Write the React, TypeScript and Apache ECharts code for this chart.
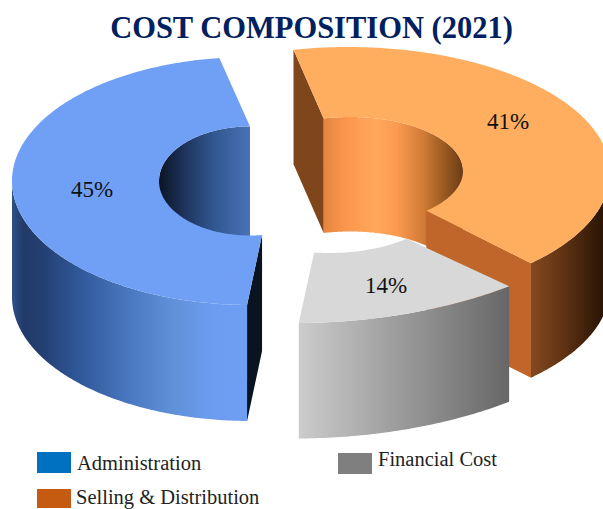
import React, { useEffect, useRef } from "react";
import * as echarts from "echarts";

const categories = ["Administration", "Selling & Distribution", "Financial Cost"];
const shares = [45, 41, 14];
const titleText = "COST COMPOSITION (2021)";

const FONT = '"Liberation Serif", serif';
const START_ANGLE = 185.3;

type Ell = { cx: number; cy: number; rx: number; ry: number };
type Look = {
  outer: Ell; inner: Ell;
  outerAdj: [number, number]; innerAdj: [number, number];
  depth: number; top: string;
  outerStops: [number, string][]; outerRange: [number, number];
  innerStops: [number, string][] | null; innerRange: [number, number];
  startCap: string | null; endCap: string | null;
  label: [number, number];
};

const looks: Look[] = [
  {
    outer: { cx: 250, cy: 181, rx: 238, ry: 124 },
    inner: { cx: 250, cy: 181, rx: 91, ry: 54.5 },
    outerAdj: [-4.6, 5.3], innerAdj: [-12.9, 12.7], depth: 116, top: "#6fa0f6",
    outerStops: [[0, "#2f5087"], [0.05, "#213a68"], [0.12, "#233e70"], [0.3, "#315a9c"], [0.5, "#4a78c0"], [0.68, "#6090d8"], [0.85, "#6c9cee"], [1, "#6f9ff4"]],
    outerRange: [12, 247],
    innerStops: [[0, "#0b1424"], [0.3, "#1f3660"], [0.6, "#31578f"], [1, "#4a72b8"]],
    innerRange: [159, 250],
    startCap: "#0a1320", endCap: null, label: [92, 189],
  },
  {
    outer: { cx: 348, cy: 173, rx: 262, ry: 126 },
    inner: { cx: 350, cy: 171, rx: 113, ry: 54 },
    outerAdj: [0.7, 0.8], innerAdj: [-0.8, 2.6], depth: 114.5, top: "#ffad5f",
    outerStops: [[0, "#85491f"], [0.4, "#643514"], [1, "#2a1405"]],
    outerRange: [531, 603],
    innerStops: [[0, "#e2853f"], [0.16, "#fb964c"], [0.38, "#ffa85c"], [0.53, "#fb9a50"], [0.72, "#cf7a36"], [0.88, "#94561f"], [1, "#6b3c17"]],
    innerRange: [323, 463],
    startCap: "#7f461c", endCap: "#c0662a", label: [508, 121],
  },
  {
    outer: { cx: 295, cy: 136, rx: 360, ry: 187 },
    inner: { cx: 330, cy: 191, rx: 120, ry: 62 },
    outerAdj: [8.6, -5.9], innerAdj: [5.4, 2.3], depth: 115.5, top: "#d8d8d8",
    outerStops: [[0, "#cccccc"], [0.5, "#999999"], [1, "#676767"]],
    outerRange: [299, 509],
    innerStops: null, innerRange: [0, 0],
    startCap: null, endCap: null, label: [386, 285],
  },
];

const legendSpots = [
  { left: 37, top: 452, h: 21, swatch: "#0070c0", raise: 0, indent: 1 },
  { left: 37, top: 486, h: 19, swatch: "#c55a11", raise: 4, indent: 0 },
  { left: 338, top: 448, h: 21, swatch: "#7f7f7f", raise: 10, indent: 1 },
];

const rad = (d: number) => (d * Math.PI) / 180;
const pt = (e: Ell, a: number): [number, number] => [e.cx + e.rx * Math.sin(rad(a)), e.cy - e.ry * Math.cos(rad(a))];
function arc(e: Ell, a0: number, a1: number): [number, number][] {
  const n = Math.max(2, Math.ceil(Math.abs(a1 - a0) * 1.5));
  const out: [number, number][] = [];
  for (let i = 0; i <= n; i++) out.push(pt(e, a0 + ((a1 - a0) * i) / n));
  return out;
}
const drop = (p: [number, number][], d: number) => p.map(([x, y]) => [x, y + d] as [number, number]);
function overlap(a0: number, a1: number, lo: number): [number, number] | null {
  for (let k = -1; k <= 2; k++) {
    const s = Math.max(a0, lo + 360 * k);
    const e = Math.min(a1, lo + 180 + 360 * k);
    if (e > s) return [s, e];
  }
  return null;
}
const grad = (range: [number, number], stops: [number, string][]) =>
  new echarts.graphic.LinearGradient(range[0], 0, range[1], 0, stops.map(([offset, color]) => ({ offset, color })), true);

function sliceAngles(i: number): [number, number] {
  const total = shares.reduce((a, b) => a + b, 0);
  const before = shares.slice(0, i).reduce((a, b) => a + b, 0);
  return [START_ANGLE + (before / total) * 360, START_ANGLE + ((before + shares[i]) / total) * 360];
}

function renderSlice(i: number) {
  return (_params: any, api: any) => {
    const value = api.value(0);
    const l = looks[i];
    const [b0, b1] = sliceAngles(i);
    const o0 = b0 + l.outerAdj[0], o1 = b1 + l.outerAdj[1];
    const n0 = b0 + l.innerAdj[0], n1 = b1 + l.innerAdj[1];
    const children: any[] = [];
    const poly = (points: [number, number][], fill: any) =>
      children.push({ type: "polygon", shape: { points }, style: { fill, stroke: null } });

    const farIn = overlap(n0, n1, 270);
    if (farIn && l.innerStops) {
      const a = arc(l.inner, farIn[0], farIn[1]);
      poly([...a, ...drop(a, l.depth).reverse()], grad(l.innerRange, l.innerStops));
    }
    const nearOut = overlap(o0, o1, 90);
    if (nearOut) {
      const a = arc(l.outer, nearOut[0], nearOut[1]);
      poly([...a, ...drop(a, l.depth).reverse()], grad(l.outerRange, l.outerStops));
    }
    if (l.startCap) {
      const p = pt(l.outer, o0), q = pt(l.inner, n0);
      poly([p, q, [q[0], q[1] + l.depth], [p[0], p[1] + l.depth]], l.startCap);
    }
    if (l.endCap) {
      const p = pt(l.outer, o1), q = pt(l.inner, n1);
      poly([p, q, [q[0], q[1] + l.depth], [p[0], p[1] + l.depth]], l.endCap);
    }
    poly([...arc(l.outer, o0, o1), ...arc(l.inner, n1, n0)], l.top);
    children.push({
      type: "text",
      style: {
        text: `${value}%`, x: l.label[0], y: l.label[1], fill: "#111111",
        font: `23px ${FONT}`, align: "center", verticalAlign: "middle",
      },
    });
    return { type: "group", children };
  };
}

export default function App() {
  const ref = useRef<HTMLDivElement>(null);
  useEffect(() => {
    document.body.style.margin = "0";
    const chart = echarts.init(ref.current!, undefined, { renderer: "svg" });
    chart.setOption({
      animation: false,
      backgroundColor: "#ffffff",
      title: {
        text: titleText, left: 306.5, top: 7.5, textAlign: "center",
        textStyle: { fontFamily: FONT, fontWeight: "bold", fontSize: 30.5, color: "#002060" },
      },
      legend: categories.map((name, i) => ({
        data: [{ name, icon: "rect", itemStyle: { color: legendSpots[i].swatch } }],
        left: legendSpots[i].left, top: legendSpots[i].top, padding: 0,
        itemWidth: 34, itemHeight: legendSpots[i].h, selectedMode: false,
        formatter: (n: string) => `{t|${n}}`,
        textStyle: {
          rich: {
            t: {
              fontFamily: FONT, fontSize: 20.5, color: "#222222",
              padding: [0, 0, legendSpots[i].raise, legendSpots[i].indent],
            },
          },
        },
      })),
      series: categories.map((name, i) => ({
        type: "custom", name, coordinateSystem: "none",
        itemStyle: { color: legendSpots[i].swatch },
        renderItem: renderSlice(i), data: [[shares[i]]],
        silent: true,
      })),
    });
    return () => chart.dispose();
  }, []);
  return <div ref={ref} style={{ position: "absolute", left: 0, top: 0, width: 603, height: 509, overflow: "hidden" }} />;
}
